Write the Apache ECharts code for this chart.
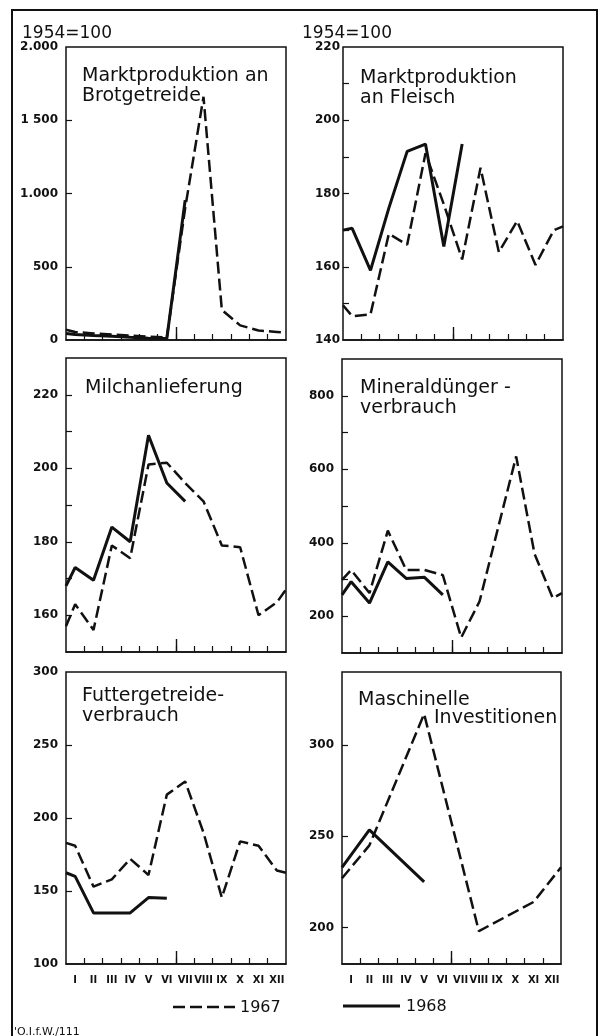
<!DOCTYPE html>
<html style="height: 100%">
<head>
  <meta charset="utf-8">
  <title>Agrarproduktion 1967/1968</title>
  <script src="https://cdn.jsdelivr.net/npm/echarts@6/dist/echarts.min.js"></script>
</head>
<body style="height: 100%; margin: 0; background: #fff">
  <div id="chart" style="width: 603px; height: 1036px"></div>
  <script>
    // Monate und Lage der Punkte (Rand, Monatsmitten, Rand)
    const months = ['I', 'II', 'III', 'IV', 'V', 'VI', 'VII', 'VIII', 'IX', 'X', 'XI', 'XII'];
    const xPos = [0, 0.5, 1.5, 2.5, 3.5, 4.5, 5.5, 6.5, 7.5, 8.5, 9.5, 10.5, 11.5, 12];
    const monthBounds = [1, 2, 3, 4, 5, 6, 7, 8, 9, 10, 11];

    // Werte 1954=100 (1967 gestrichelt, 1968 durchgezogen)
    const brot1967 = [70, 55, 45, 38, 30, 22, 18, 900, 1660, 205, 100, 65, 55, 50];
    const brot1968 = [45, 38, 30, 25, 18, 12, 10, 955];
    const fleisch1967 = [149.5, 146.5, 147, 169, 166, 191, 177, 162, 187, 164, 172.5, 160.5, 170, 171];
    const fleisch1968 = [170, 170.5, 159, 176, 191.5, 193.5, 165.5, 193.5];
    const milch1967 = [157, 163, 156, 179, 175.5, 201, 201.5, 196, 191, 179, 178.5, 160, 163.5, 167];
    const milch1968 = [168, 173, 169.5, 184, 180, 209, 196, 191];
    const duenger1967 = [299, 326, 263, 433, 326, 326, 312, 142, 240, 438, 635, 370, 249, 263];
    const duenger1968 = [258, 294, 236, 348, 303, 306, 258];
    const futter1967 = [183, 181, 153, 158, 172, 161, 216, 225, 190, 145.5, 184, 181, 164, 162.5];
    const futter1968 = [162.5, 160, 135, 135, 135, 145.5, 145];
    const masch1967 = [227, null, 245, null, null, 317, null, null, 198, null, null, 214, null, 233];
    const masch1968 = [233, null, 253.5, null, null, 225];

    // Achsen: Teilstriche und Beschriftungen
    const brotTicks = [500, 1000, 1500];
    const brotLabels = [0, 500, 1000, 1500, 2000];
    const brotLabelText = { 0: '0', 500: '500', 1000: '1.000', 1500: '1 500', 2000: '2.000' };
    const fleischTicks = [150, 160, 170, 180, 190, 200, 210];
    const fleischLabels = [140, 160, 180, 200, 220];
    const milchTicks = [160, 170, 180, 190, 200, 210, 220];
    const milchLabels = [160, 180, 200, 220];
    const duengerTicks = [200, 300, 400, 500, 600, 700, 800];
    const duengerLabels = [200, 400, 600, 800];
    const futterTicks = [150, 200, 250];
    const futterLabels = [100, 150, 200, 250, 300];
    const maschTicks = [200, 250, 300];
    const maschLabels = [200, 250, 300];

    const panels = [
      { rect: { left: 66, top: 47, width: 220, height: 293 }, min: 0, max: 2000, ticks: brotTicks, labels: brotLabels, text: brotLabelText, d67: brot1967, d68: brot1968, margin: 8, showMonths: false },
      { rect: { left: 343, top: 47, width: 220, height: 293 }, min: 140, max: 220, ticks: fleischTicks, labels: fleischLabels, d67: fleisch1967, d68: fleisch1968, margin: 3, showMonths: false },
      { rect: { left: 66, top: 358, width: 220, height: 294 }, min: 150, max: 230, ticks: milchTicks, labels: milchLabels, d67: milch1967, d68: milch1968, margin: 8, showMonths: false },
      { rect: { left: 342, top: 359, width: 220, height: 294 }, min: 100, max: 900, ticks: duengerTicks, labels: duengerLabels, d67: duenger1967, d68: duenger1968, margin: 8, showMonths: false },
      { rect: { left: 66, top: 672, width: 220, height: 292 }, min: 100, max: 300, ticks: futterTicks, labels: futterLabels, d67: futter1967, d68: futter1968, margin: 8, showMonths: true },
      { rect: { left: 342, top: 672, width: 219, height: 292 }, min: 180, max: 340, ticks: maschTicks, labels: maschLabels, d67: masch1967, d68: masch1968, margin: 8, showMonths: true }
    ];

    function toPoints(values) {
      const pts = [];
      values.forEach((v, i) => {
        if (v !== null && v !== undefined) pts.push([xPos[i], v]);
      });
      return pts;
    }

    const grid = [], xAxis = [], yAxis = [], series = [];
    const black = '#111';
    const labelFont = 'DejaVu Sans Condensed, DejaVu Sans, sans-serif';

    panels.forEach((p, i) => {
      grid.push(Object.assign({ show: true, borderColor: black, borderWidth: 1.5, backgroundColor: 'transparent' }, p.rect));
      // Monatsachse (nur Beschriftung)
      xAxis.push({
        type: 'category', gridIndex: i, position: 'bottom', data: months, boundaryGap: true,
        axisLine: { lineStyle: { color: black, width: 1.5 } },
        axisTick: { show: false },
        axisLabel: {
          show: p.showMonths, interval: 0, margin: 11, color: black,
          fontFamily: labelFont, fontWeight: 'bold', fontSize: 11
        },
        splitLine: { show: false }
      });
      // Werteachse fuer die Linien, kurze Monatsstriche
      xAxis.push({
        type: 'value', gridIndex: i, position: 'bottom', min: 0, max: 12,
        axisLine: { show: false },
        axisTick: { show: true, inside: true, length: 6, customValues: monthBounds, lineStyle: { color: black, width: 1.2 } },
        axisLabel: { show: false },
        splitLine: { show: false }
      });
      // langer Strich zur Jahresmitte
      xAxis.push({
        type: 'value', gridIndex: i, position: 'bottom', min: 0, max: 12,
        axisLine: { show: false },
        axisTick: { show: true, inside: true, length: 13, customValues: [6], lineStyle: { color: black, width: 1.4 } },
        axisLabel: { show: false },
        splitLine: { show: false }
      });
      yAxis.push({
        type: 'value', gridIndex: i, min: p.min, max: p.max,
        axisLine: { show: false },
        axisTick: { show: true, inside: true, length: 6, customValues: p.ticks, lineStyle: { color: black, width: 1.2 } },
        axisLabel: {
          customValues: p.labels, margin: p.margin, color: black,
          fontFamily: 'DejaVu Sans', fontWeight: 'bold', fontSize: 12,
          formatter: v => (p.text ? p.text[v] : String(v))
        },
        splitLine: { show: false }
      });
      series.push({
        name: '1967', type: 'line', xAxisIndex: i * 3 + 1, yAxisIndex: i,
        data: toPoints(p.d67), symbol: 'none', connectNulls: true, z: 3,
        lineStyle: { color: black, width: 2.5, type: [12, 5] }
      });
      series.push({
        name: '1968', type: 'line', xAxisIndex: i * 3 + 1, yAxisIndex: i,
        data: toPoints(p.d68), symbol: 'none', connectNulls: true, z: 4,
        lineStyle: { color: black, width: 3 }
      });
    });

    const titleStyle = { fill: black, font: '19px "DejaVu Sans"', lineHeight: 20 };
    function txt(x, y, text, extra) {
      return { type: 'text', left: x, top: y, style: Object.assign({ text: text }, titleStyle, extra || {}) };
    }

    const option = {
      animation: false,
      backgroundColor: '#fff',
      grid: grid,
      xAxis: xAxis,
      yAxis: yAxis,
      series: series,
      graphic: [
        { type: 'polyline', shape: { points: [[12, 1036], [12, 10], [597, 10], [597, 1036]] }, style: { stroke: black, lineWidth: 2, fill: null } },
        txt(22, 24, '1954=100', { font: '17px "DejaVu Sans"' }),
        txt(302, 24, '1954=100', { font: '17px "DejaVu Sans"' }),
        txt(82, 66, 'Marktproduktion an\nBrotgetreide'),
        txt(360, 68, 'Marktproduktion\nan Fleisch'),
        txt(85, 378, 'Milchanlieferung'),
        txt(360, 378, 'Mineraldünger -\nverbrauch'),
        txt(82, 686, 'Futtergetreide-\nverbrauch'),
        txt(358, 690, 'Maschinelle'),
        txt(434, 708, 'Investitionen'),
        { type: 'line', shape: { x1: 173, y1: 1007, x2: 235, y2: 1007 }, style: { stroke: black, lineWidth: 2.5, lineDash: [12, 5] } },
        txt(240, 998, '1967', { font: '16px "DejaVu Sans"' }),
        { type: 'line', shape: { x1: 343, y1: 1006, x2: 400, y2: 1006 }, style: { stroke: black, lineWidth: 3 } },
        txt(406, 997, '1968', { font: '16px "DejaVu Sans"' }),
        txt(14, 1022, "'O.I.f.W./111", { font: '11px "DejaVu Sans"' })
      ]
    };

    const chart = echarts.init(document.getElementById('chart'), null, { renderer: 'canvas' });
    chart.setOption(option);
  </script>
</body>
</html>
